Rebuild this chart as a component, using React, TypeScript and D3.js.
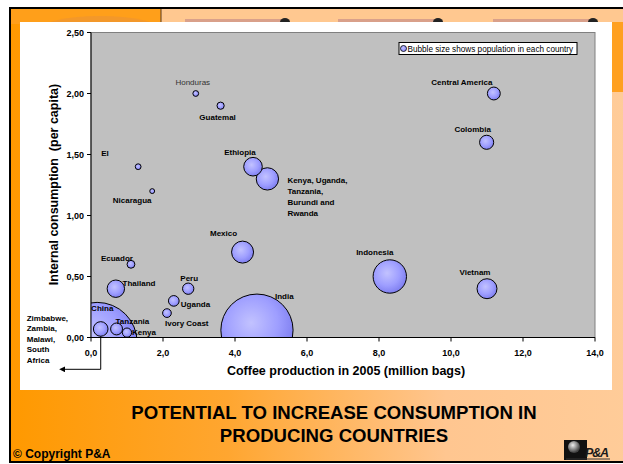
import React from 'react';
import * as d3 from 'd3';

// ---- data ----
const labels: string[][] = [
  ['Honduras'], ['Guatemal'], ['El'], ['Nicaragua'], ['Ethiopia'],
  ['Kenya, Uganda,', 'Tanzania,', 'Burundi and', 'Rwanda'],
  ['Central America'], ['Colombia'], ['Indonesia'], ['Vietnam'], ['Mexico'],
  ['Ecuador'], ['Thailand'], ['Peru'], ['Uganda'], ['Ivory Coast'], ['China'],
  ['India'], ['Zimbabwe,', 'Zambia,', 'Malawi,', 'South', 'Africa'], ['Tanzania'], ['Kenya'],
];
const production: number[] = [2.91, 3.6, 1.31, 1.7, 4.5, 4.9, 11.19, 10.99, 8.3, 11.0, 4.21, 1.11, 0.69, 2.7, 2.3, 2.11, 0.17, 4.61, 0.27, 0.71, 1.0];
const consumption: number[] = [2.0, 1.9, 1.4, 1.2, 1.4, 1.3, 2.0, 1.6, 0.5, 0.4, 0.7, 0.6, 0.4, 0.4, 0.3, 0.2, -0.04, 0.06, 0.07, 0.07, 0.04];
const population: number[] = [7, 11, 7, 5, 73, 105, 35, 42, 235, 84, 102, 13, 64, 27, 24, 16, 1350, 1100, 45, 30, 18];
const xTicks: number[] = [0, 2, 4, 6, 8, 10, 12, 14];
const yTicks: number[] = [0, 0.5, 1.0, 1.5, 2.0, 2.5];

// ---- label layout (pixel offsets from bubble centres) ----
const labelLayout: { dx: number; dy: number; anchor: string; normal?: boolean }[] = [
  { dx: -3, dy: -8.7, anchor: 'middle', normal: true },
  { dx: -3, dy: 14, anchor: 'middle' },
  { dx: -37, dy: -10.7, anchor: 'start' },
  { dx: -20, dy: 12, anchor: 'middle' },
  { dx: -13, dy: -12, anchor: 'middle' },
  { dx: 20, dy: 4, anchor: 'start' },
  { dx: -32, dy: -8.4, anchor: 'middle' },
  { dx: -14, dy: -10, anchor: 'middle' },
  { dx: -15, dy: -22, anchor: 'middle' },
  { dx: -12, dy: -14, anchor: 'middle' },
  { dx: -19, dy: -16, anchor: 'middle' },
  { dx: -14, dy: -3, anchor: 'middle' },
  { dx: 6.7, dy: -2.7, anchor: 'start' },
  { dx: 1, dy: -7.7, anchor: 'middle' },
  { dx: 7, dy: 6.3, anchor: 'start' },
  { dx: -2, dy: 12.7, anchor: 'start' },
  { dx: -6, dy: -31, anchor: 'start' },
  { dx: 18, dy: -31.4, anchor: 'start' },
  { dx: -74, dy: -8, anchor: 'start' },
  { dx: -1, dy: -5, anchor: 'start' },
  { dx: 5, dy: 2.6, anchor: 'start' },
];

const W = 623;
const H = 464;
const FONT = 'Liberation Sans, Arial, sans-serif';

export default function App() {
  const x = d3.scaleLinear().domain([0, 14]).range([91, 595]);
  const y = d3.scaleLinear().domain([0, 2.5]).range([337.5, 32.5]);
  const r = d3.scaleSqrt().domain([0, 1350]).range([0, 40]);
  const fx = (v: number) => d3.format('.1f')(v).replace('.', ',');
  const fy = (v: number) => d3.format('.2f')(v).replace('.', ',');

  const order = d3.range(labels.length).sort((a, b) => population[b] - population[a]);
  const zimb = 18;
  const zx = x(production[zimb]);
  const zy = y(consumption[zimb]) + r(population[zimb]);

  return (
    <svg width={W} height={H} style={{ position: 'absolute', left: 0, top: 0 }} fontFamily={FONT}>
      <defs>
        <linearGradient id="bg" x1="0" y1="0" x2="1" y2="0">
          <stop offset="0" stopColor="#FF9900" />
          <stop offset="0.35" stopColor="#FFA630" />
          <stop offset="0.7" stopColor="#FFC690" />
          <stop offset="1" stopColor="#FFCC99" />
        </linearGradient>
        <radialGradient id="bub" cx="0.42" cy="0.4" r="0.62">
          <stop offset="0" stopColor="#C2C2FF" />
          <stop offset="0.6" stopColor="#9E9EFF" />
          <stop offset="1" stopColor="#7E7EF0" />
        </radialGradient>
        <radialGradient id="sph" cx="0.4" cy="0.35" r="0.6">
          <stop offset="0" stopColor="#eeeeee" />
          <stop offset="1" stopColor="#444444" />
        </radialGradient>
        <clipPath id="plotClip">
          <rect x={x(0)} y={y(2.5)} width={x(14) - x(0)} height={y(0) - y(2.5)} />
        </clipPath>
        <marker id="arrow" viewBox="0 0 10 10" refX="2" refY="5" markerWidth="6" markerHeight="6" orient="auto-start-reverse">
          <path d="M0,0 L10,5 L0,10 z" fill="#000" />
        </marker>
      </defs>

      {/* slide background */}
      <rect x={10} y={8} width={W} height={454} fill="url(#bg)" />
      {/* header strip */}
      <rect x={10} y={8} width={151} height={16} fill="#FF9F1A" />
      <ellipse cx={100} cy={30} rx={60} ry={14} fill="#F0962E" opacity={0.8} />
      <rect x={161} y={8} width={W - 161} height={16} fill="#FFC890" />
      <line x1={161} y1={8} x2={161} y2={24} stroke="#5a3a1a" strokeWidth={1} />
      {[185, 338, 493].map((sx, i) => (
        <g key={i}>
          <rect x={sx} y={19} width={100} height={6} fill="#D9A08A" />
          <ellipse cx={sx + 100} cy={22} rx={5} ry={4} fill="#222" />
        </g>
      ))}
      <rect x={612} y={22} width={12} height={70} fill="#FFA020" />
      <rect x={10} y={8} width={W + 10} height={454} fill="none" stroke="#000" strokeWidth={2} />

      {/* white panel */}
      <rect x={20} y={22} width={592} height={368} fill="#FFFFFF" />

      {/* plot area */}
      <rect x={x(0)} y={y(2.5)} width={x(14) - x(0)} height={y(0) - y(2.5)} fill="#C0C0C0" stroke="#808080" strokeWidth={1} />

      {/* bubbles */}
      <g clipPath="url(#plotClip)">
        {order.map((i) => (
          <circle key={i} cx={x(production[i])} cy={y(consumption[i])} r={r(population[i])} fill="url(#bub)" stroke="#000" strokeWidth={1} />
        ))}
      </g>

      {/* axes */}
      <line x1={x(0)} y1={y(2.5)} x2={x(0)} y2={y(0)} stroke="#000" strokeWidth={1} />
      <line x1={x(0)} y1={y(0)} x2={x(14)} y2={y(0)} stroke="#000" strokeWidth={1} />
      {yTicks.map((t) => (
        <g key={'y' + t}>
          <line x1={x(0) - 4} x2={x(0)} y1={y(t)} y2={y(t)} stroke="#000" />
          <text x={x(0) - 7} y={y(t)} dy="0.35em" textAnchor="end" fontSize={9} fontWeight="bold" fill="#000">{fy(t)}</text>
        </g>
      ))}
      {xTicks.map((t) => (
        <g key={'x' + t}>
          <line x1={x(t)} x2={x(t)} y1={y(0)} y2={y(0) + 4} stroke="#000" />
          <text x={x(t)} y={y(0) + 18.5} textAnchor="middle" fontSize={9} fontWeight="bold" fill="#000">{fx(t)}</text>
        </g>
      ))}

      {/* axis titles */}
      <text x={346} y={374.5} textAnchor="middle" fontSize={12.5} fontWeight="bold" fill="#000">Coffee production in 2005 (million bags)</text>
      <text transform="translate(57.5,184.5) rotate(-90)" textAnchor="middle" fontSize={12.5} fontWeight="bold" fill="#000" style={{ whiteSpace: 'pre' }}>{'Internal consumption  (per capita)'}</text>

      {/* data labels */}
      {labels.map((lines, i) => {
        const L = labelLayout[i];
        const lx = x(production[i]) + L.dx;
        const ly = y(consumption[i]) + L.dy;
        const step = lines.length > 4 ? 10.4 : 11;
        return (
          <text key={'l' + i} x={lx} y={ly} textAnchor={L.anchor} fontSize={8} fontWeight={L.normal ? 'normal' : 'bold'} fill={L.normal ? '#333' : '#000'}>
            {lines.map((s, j) => (
              <tspan key={j} x={lx} y={ly + j * step}>{s}</tspan>
            ))}
          </text>
        );
      })}

      {/* annotation arrow for the southern Africa group */}
      <polyline points={`${zx},${zy} ${zx},369.3 64,369.3`} fill="none" stroke="#000" strokeWidth={1} markerEnd="url(#arrow)" />

      {/* legend */}
      <rect x={399} y={42.5} width={178} height={12} fill="#FFFFFF" stroke="#000" strokeWidth={1} />
      <circle cx={403.5} cy={48.5} r={3} fill="url(#bub)" stroke="#000" strokeWidth={0.8} />
      <text x={407.5} y={51.5} fontSize={8.2} fill="#000">Bubble size shows population in each country</text>

      {/* slide title */}
      <text x={334} y={419} textAnchor="middle" fontSize={18.6} fontWeight="bold" fill="#000">POTENTIAL TO INCREASE CONSUMPTION IN</text>
      <text x={334} y={442} textAnchor="middle" fontSize={18.6} fontWeight="bold" fill="#000">PRODUCING COUNTRIES</text>
      <text x={13} y={458} fontSize={12} fontWeight="bold" fill="#000">© Copyright P&amp;A</text>

      {/* logo */}
      <rect x={564} y={440} width={23} height={20} fill="#111" />
      <circle cx={574} cy={447} r={6} fill="url(#sph)" />
      <text x={585} y={457} fontSize={12.5} fontWeight="bold" fontStyle="italic" fill="#1a1a1a" letterSpacing={-1.2}>P&amp;A</text>
      <line x1={566} y1={459} x2={610} y2={459} stroke="#333" strokeWidth={1} />
    </svg>
  );
}
